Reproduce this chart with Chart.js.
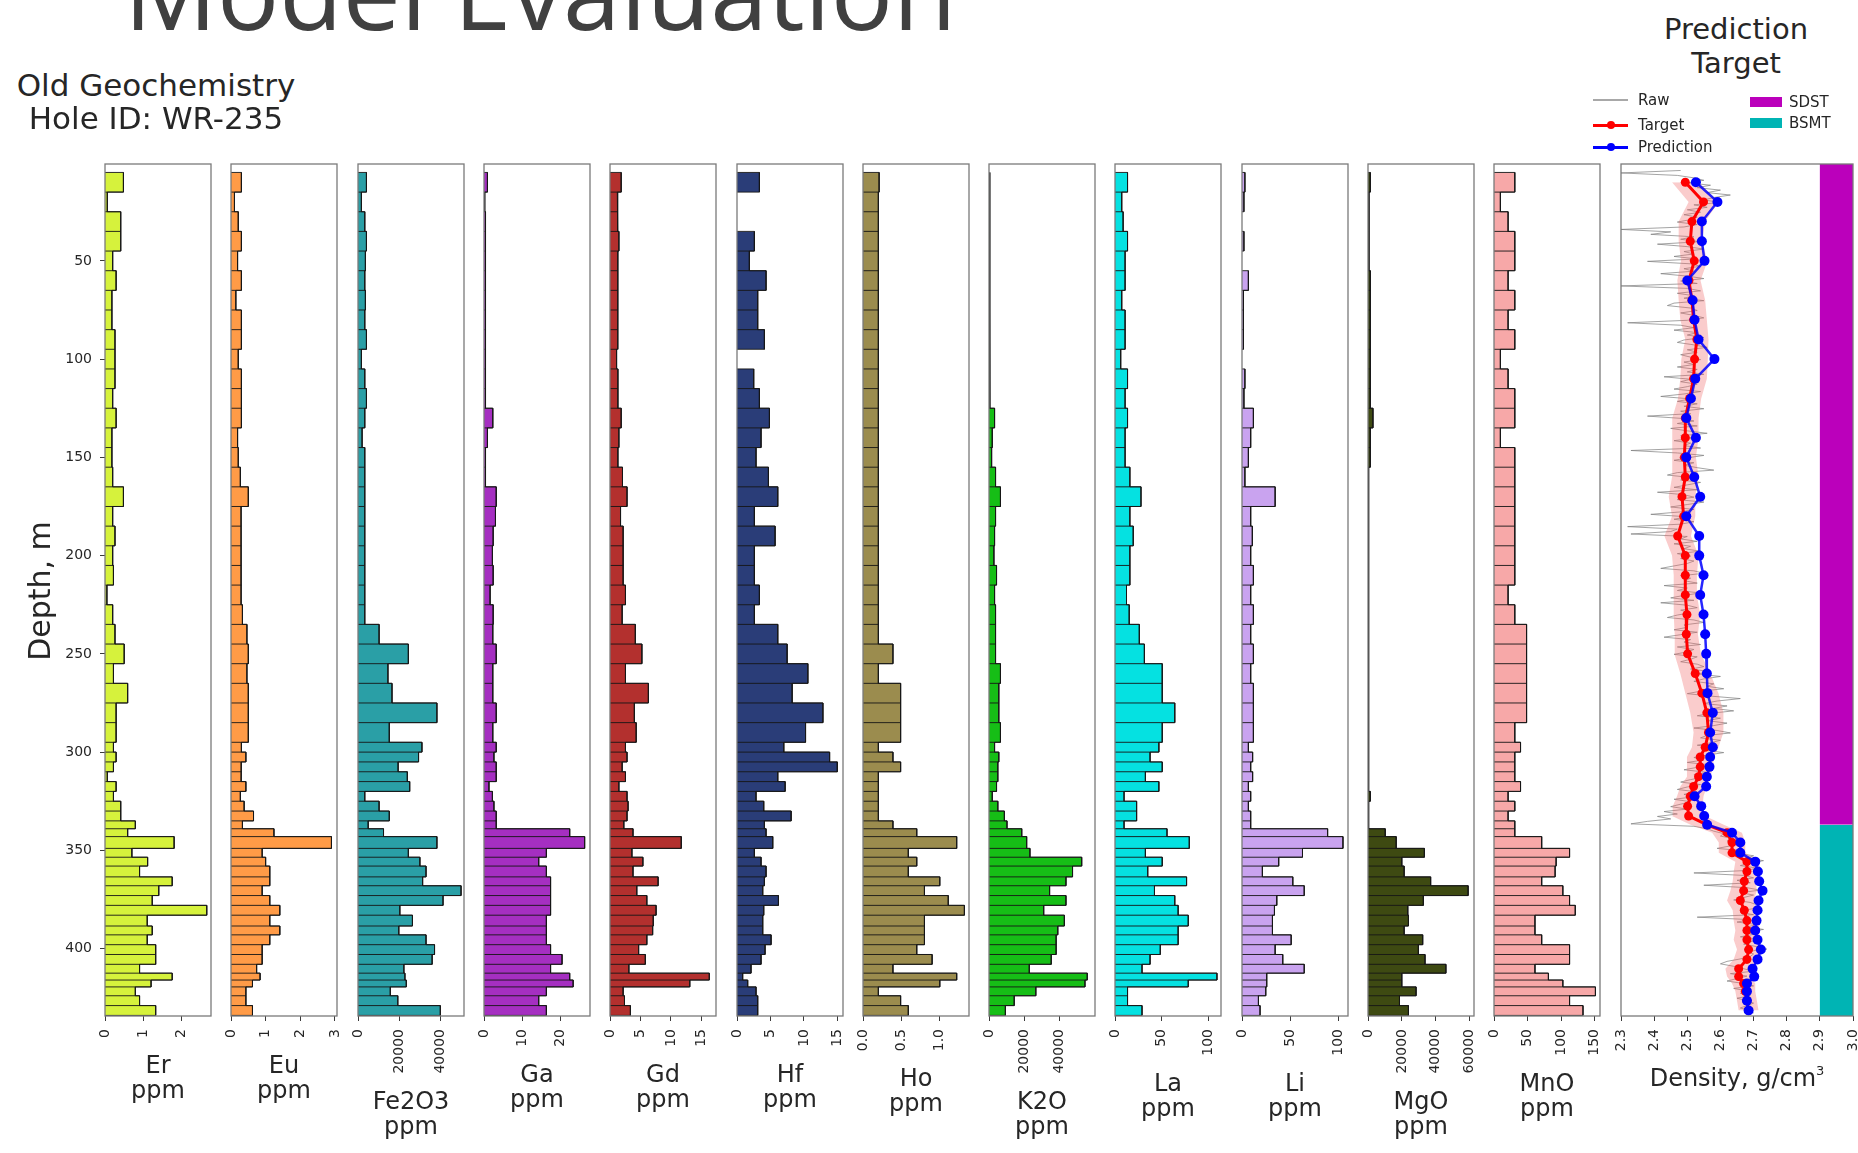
<!DOCTYPE html>
<html lang="en">
<head>
<meta charset="utf-8">
<title>Model Evaluation</title>
<script src="https://cdn.jsdelivr.net/npm/chart.js@4.4.1/dist/chart.umd.min.js"></script>
<style>
  html, body { margin: 0; padding: 0; background: #ffffff; }
  #figure { position: relative; width: 1858px; height: 1153px; overflow: hidden; background: #ffffff; }
  #figure canvas { position: absolute; }
  .txt { position: absolute; white-space: nowrap; }
</style>
</head>
<body>
<div id="figure"></div>
<script>
// ---------------- assay intervals (depth, m) ----------------
const binEdges = [5, 15, 25, 35, 45, 55, 65, 75, 85, 95, 105, 115, 125, 135, 145, 155, 165, 175, 185, 195,
  205, 215, 225, 235, 245, 255, 265, 275, 285, 295, 300, 305, 310, 315, 320, 325, 330, 335, 339, 343,
  349, 353.5, 358, 363.5, 368, 373, 378, 383, 388.5, 393, 398, 403, 408, 412.5, 416, 419.5, 424, 429, 434];
const depthTicks = [50, 100, 150, 200, 250, 300, 350, 400];

// ---------------- assay values, one per interval ----------------
const erValues = [0.48, 0.06, 0.41, 0.41, 0.20, 0.29, 0.18, 0.18, 0.26, 0.26, 0.26, 0.20, 0.29, 0.18, 0.18, 0.20, 0.48, 0.20, 0.26, 0.20, 0.22, 0.05, 0.20, 0.26,
  0.50, 0.22, 0.59, 0.29, 0.29, 0.22, 0.29, 0.22, 0.06, 0.29, 0.22, 0.41, 0.41, 0.79, 0.59, 1.80, 0.70, 1.11, 0.90, 1.75, 1.40, 1.23, 2.65, 1.10, 1.23, 1.10, 1.32, 1.32, 0.90, 1.75, 1.20, 0.79, 0.90, 1.32];
const euValues = [0.30, 0.10, 0.21, 0.30, 0.19, 0.30, 0.14, 0.30, 0.30, 0.21, 0.30, 0.30, 0.30, 0.19, 0.21, 0.27, 0.50, 0.29, 0.29, 0.29, 0.29, 0.30, 0.33, 0.46,
  0.50, 0.46, 0.50, 0.50, 0.50, 0.30, 0.43, 0.30, 0.29, 0.43, 0.27, 0.38, 0.65, 0.33, 1.24, 2.90, 0.90, 1.00, 1.12, 1.12, 0.90, 1.12, 1.41, 1.12, 1.41, 1.12, 0.90, 0.90, 0.74, 0.84, 0.62, 0.43, 0.43, 0.62];
const fe2o3Values = [4100, 1650, 3300, 4100, 3600, 3300, 3600, 3300, 4100, 1650, 3300, 4100, 3300, 2000, 3300, 3300, 3300, 3300, 3300, 3300, 3300, 3300, 3300, 10250,
  24460, 14550, 16530, 38350, 15200, 31070, 29420, 19500, 23970, 25120, 3300, 10250, 15200, 4960, 12400, 38350, 24460, 30080, 33060, 31400, 50080, 41320, 20330, 26450, 19830, 33060, 37190, 36030, 22300, 22800, 23470, 15700, 19340, 40000];
const gaValues = [0.9, 0.2, 0.4, 0.4, 0.4, 0.4, 0.4, 0.4, 0.4, 0.4, 0.4, 0.4, 2.3, 0.9, 0.4, 0.4, 3.2, 3.0, 2.4, 2.2, 2.4, 1.6, 2.4, 2.3,
  3.2, 2.3, 2.3, 3.2, 2.3, 3.2, 2.6, 3.2, 3.2, 1.3, 2.2, 2.6, 3.2, 3.2, 22.4, 26.3, 16.3, 14.3, 16.3, 17.4, 17.4, 17.4, 17.4, 16.3, 16.3, 16.3, 17.4, 20.4, 17.4, 22.4, 23.3, 16.3, 14.3, 16.3];
const gdValues = [1.84, 1.20, 1.30, 1.46, 1.30, 1.30, 1.30, 1.30, 1.20, 1.08, 1.30, 1.30, 1.84, 1.46, 1.30, 2.05, 2.80, 1.73, 2.16, 2.16, 2.16, 2.54, 2.00, 4.16,
  5.24, 2.54, 6.30, 4.00, 4.30, 2.54, 2.80, 2.00, 2.54, 1.46, 2.80, 2.97, 2.80, 2.27, 3.78, 11.7, 3.60, 5.40, 3.78, 7.90, 4.40, 6.05, 7.57, 7.10, 7.00, 6.05, 4.70, 5.80, 3.10, 16.3, 13.1, 2.16, 2.38, 3.35];
const hfValues = [3.35, null, null, 2.6, 1.85, 4.35, 3.1, 3.1, 4.1, null, 2.5, 3.35, 4.85, 3.6, 2.85, 4.7, 6.1, 2.6, 5.7, 2.6, 2.6, 3.35, 2.6, 6.1,
  7.5, 10.6, 8.25, 12.85, 10.25, 7.0, 13.85, 15.0, 6.1, 7.2, 2.85, 4.0, 8.1, 4.1, 4.35, 5.35, 2.6, 3.6, 4.35, 4.1, 3.85, 6.2, 4.0, 3.85, 3.85, 5.1, 4.2, 3.6, 2.1, 0.85, 1.6, 2.85, 3.1, 3.1];
const hoValues = [0.21, 0.2, 0.2, 0.2, 0.2, 0.2, 0.2, 0.2, 0.2, 0.2, 0.2, 0.2, 0.2, 0.2, 0.2, 0.2, 0.2, 0.2, 0.2, 0.2, 0.2, 0.2, 0.2, 0.2,
  0.39, 0.2, 0.49, 0.49, 0.49, 0.2, 0.39, 0.49, 0.2, 0.2, 0.2, 0.2, 0.2, 0.39, 0.7, 1.22, 0.59, 0.7, 0.59, 1.0, 0.8, 1.11, 1.32, 0.8, 0.8, 0.8, 0.7, 0.9, 0.39, 1.22, 1.0, 0.2, 0.49, 0.59];
const k2oValues = [500, 500, 500, 500, 500, 500, 500, 500, 500, 500, 500, 500, 3160, 1860, 1490, 3720, 6510, 3720, 3160, 2790, 4280, 3160, 3720, 3720,
  3720, 6510, 5580, 5580, 6510, 3160, 5580, 5020, 5020, 4280, 1860, 5020, 8740, 10230, 18600, 21400, 23260, 52650, 47440, 43720, 34420, 43720, 31070, 42790, 39070, 38140, 38140, 35350, 22880, 55810, 54510, 26600, 14330, 9300];
const laValues = [13.4, 7.2, 8.7, 13.4, 10.8, 10.8, 7.2, 10.8, 10.8, 6.1, 13.4, 10.8, 13.4, 10.8, 10.8, 15.9, 27.8, 15.9, 19.5, 15.9, 15.9, 12.3, 15.2, 26.0,
  31.4, 50.5, 50.5, 63.9, 50.5, 46.9, 37.5, 50.5, 32.5, 46.9, 9.7, 23.1, 23.1, 9.7, 55.6, 79.4, 32.5, 50.5, 35.0, 76.5, 42.2, 63.9, 67.5, 78.3, 67.5, 67.5, 48.4, 37.5, 28.9, 109, 78.3, 13.4, 13.4, 28.9];
const liValues = [3, 2, null, 2, null, 6.6, 1.5, 1.5, 1.5, null, 3, 2, 11.8, 9, 6.6, 3, 34.3, 9, 10.7, 9, 11.8, 9, 11.8, 9,
  11.8, 9, 11.8, 11.8, 11.8, 6.6, 11, 9, 11, 6.6, 9, 6.6, 9, 9, 88.6, 104.5, 62.6, 38, 21.1, 52.6, 64.4, 36, 33.6, 31.5, 31.5, 50.9, 34.3, 42.2, 64.4, 25.6, 25.6, 24.6, 17, 18.7];
const mgoValues = [1370, 590, 590, 590, 590, 1370, 1370, 1370, 1370, 1370, 1370, 1370, 2930, 1370, 1370, 390, 390, 390, 390, 390, 390, 390, 390, 390,
  390, 390, 390, 390, 390, 390, 390, 390, 390, 390, 1370, 390, 390, 390, 10170, 16620, 33240, 19940, 21310, 36950, 59040, 32650, 23460, 23850, 21310, 32260, 29720, 33630, 45940, 19940, 19940, 28350, 18570, 23850];
const mnoValues = [31, 9.5, 21, 31, 31, 21, 31, 21, 31, 9.5, 21, 31, 31, 9.5, 31, 31, 31, 31, 31, 31, 31, 21, 31, 48.5,
  48.5, 48.5, 48.5, 48.5, 31, 39.5, 31, 31, 31, 39.5, 21, 31, 21, 31, 31, 71, 112.5, 92.5, 91, 71, 102.5, 112.5, 121, 61, 61, 71, 112.5, 112.5, 61, 81, 102.5, 151, 112.5, 132.5];

// ---------------- tick labels ----------------
const erTicks = ['0', '1', '2'];
const euTicks = ['0', '1', '2', '3'];
const fe2o3Ticks = ['0', '20000', '40000'];
const gaTicks = ['0', '10', '20'];
const gdTicks = ['0', '5', '10', '15'];
const hfTicks = ['0', '5', '10', '15'];
const hoTicks = ['0.0', '0.5', '1.0'];
const k2oTicks = ['0', '20000', '40000'];
const laTicks = ['0', '50', '100'];
const liTicks = ['0', '50', '100'];
const mgoTicks = ['0', '20000', '40000', '60000'];
const mnoTicks = ['0', '50', '100', '150'];
const densityTicks = ['2.3', '2.4', '2.5', '2.6', '2.7', '2.8', '2.9', '3.0'];

// ---------------- density (g/cm3), one per interval ----------------
const targetDensity = [2.494, 2.549, 2.514, 2.509, 2.521, 2.505, 2.514, 2.519, 2.529, 2.522,
  2.519, 2.507, 2.494, 2.494, 2.491, 2.494, 2.484, 2.489, 2.471, 2.494,
  2.494, 2.494, 2.499, 2.497, 2.501, 2.524, 2.544, 2.559, 2.564, 2.554,
  2.539, 2.539, 2.534, 2.519, 2.509, 2.501, 2.504, 2.560, 2.620, 2.635,
  2.635, 2.680, 2.680, 2.672, 2.670, 2.660, 2.672, 2.680, 2.680, 2.680,
  2.685, 2.680, 2.655, 2.655, 2.670, 2.675, 2.680, 2.685];
const predictedDensity = [2.526, 2.591, 2.544, 2.544, 2.552, 2.500, 2.516, 2.522, 2.534, 2.582,
  2.524, 2.511, 2.497, 2.526, 2.497, 2.521, 2.539, 2.497, 2.536, 2.536,
  2.549, 2.539, 2.549, 2.554, 2.557, 2.559, 2.561, 2.577, 2.569, 2.577,
  2.569, 2.567, 2.559, 2.557, 2.522, 2.542, 2.551, 2.560, 2.635, 2.660,
  2.660, 2.705, 2.713, 2.717, 2.727, 2.715, 2.712, 2.709, 2.705, 2.712,
  2.722, 2.712, 2.697, 2.702, 2.680, 2.680, 2.680, 2.685];
// half-width of the target scatter band
const targetSpread = [0.04, 0.045, 0.04, 0.035, 0.04, 0.035, 0.04, 0.04, 0.035, 0.04,
  0.04, 0.035, 0.04, 0.04, 0.035, 0.04, 0.04, 0.035, 0.04, 0.04,
  0.035, 0.035, 0.04, 0.035, 0.04, 0.045, 0.05, 0.05, 0.045, 0.04,
  0.04, 0.04, 0.035, 0.04, 0.04, 0.045, 0.05, 0.05, 0.045, 0.04,
  0.04, 0.035, 0.04, 0.035, 0.04, 0.04, 0.035, 0.04, 0.035, 0.04,
  0.035, 0.04, 0.04, 0.035, 0.035, 0.03, 0.03, 0.03];

// raw log, sampled every 1.25 m from 4 m
const RAW_START = 4, RAW_STEP = 1.25;
const rawDensity = [
  2.48, 2.30, 2.47, 2.52, 2.55, 2.50, 2.57, 2.53, 2.60, 2.56, 2.63, 2.58, 2.55, 2.60, 2.52, 2.56, 2.50, 2.54, 2.49, 2.53,
  2.51, 2.47, 2.53, 2.49, 2.30, 2.45, 2.39, 2.52, 2.48, 2.54, 2.41, 2.50, 2.55, 2.49, 2.52, 2.46, 2.53, 2.38, 2.51, 2.54,
  2.49, 2.52, 2.42, 2.50, 2.55, 2.48, 2.53, 2.30, 2.50, 2.54, 2.47, 2.52, 2.49, 2.55, 2.46, 2.44, 2.51, 2.53, 2.48, 2.52,
  2.55, 2.50, 2.32, 2.48, 2.52, 2.46, 2.53, 2.50, 2.55, 2.49, 2.47, 2.52, 2.56, 2.50, 2.53, 2.48, 2.51, 2.54, 2.49, 2.52,
  2.47, 2.53, 2.50, 2.55, 2.43, 2.51, 2.48, 2.53, 2.50, 2.46, 2.54, 2.49, 2.42, 2.51, 2.47, 2.53, 2.49, 2.55, 2.48, 2.51,
  2.38, 2.49, 2.52, 2.47, 2.53, 2.45, 2.50, 2.56, 2.48, 2.52, 2.46, 2.51, 2.49, 2.54, 2.33, 2.47, 2.55, 2.50, 2.46, 2.52,
  2.49, 2.53, 2.58, 2.47, 2.44, 2.51, 2.48, 2.54, 2.50, 2.46, 2.53, 2.41, 2.49, 2.52, 2.47, 2.55, 2.50, 2.45, 2.52, 2.48,
  2.39, 2.50, 2.46, 2.52, 2.48, 2.32, 2.47, 2.45, 2.33, 2.50, 2.48, 2.53, 2.46, 2.51, 2.49, 2.54, 2.47, 2.51, 2.48, 2.52,
  2.50, 2.46, 2.42, 2.52, 2.55, 2.48, 2.51, 2.49, 2.53, 2.43, 2.50, 2.47, 2.54, 2.49, 2.45, 2.52, 2.42, 2.50, 2.53, 2.48,
  2.51, 2.47, 2.44, 2.52, 2.55, 2.49, 2.50, 2.46, 2.53, 2.48, 2.43, 2.51, 2.49, 2.54, 2.47, 2.52, 2.50, 2.46, 2.53, 2.51,
  2.48, 2.53, 2.55, 2.51, 2.57, 2.53, 2.60, 2.55, 2.52, 2.58, 2.56, 2.61, 2.54, 2.50, 2.57, 2.66, 2.59, 2.55, 2.62, 2.58,
  2.64, 2.57, 2.53, 2.60, 2.56, 2.62, 2.58, 2.52, 2.59, 2.63, 2.56, 2.54, 2.60, 2.57, 2.53, 2.59, 2.55, 2.61, 2.56, 2.52,
  2.55, 2.50, 2.57, 2.53, 2.49, 2.56, 2.52, 2.55, 2.51, 2.48, 2.54, 2.50, 2.47, 2.53, 2.49, 2.52, 2.46, 2.51, 2.48, 2.45,
  2.50, 2.43, 2.47, 2.41, 2.45, 2.38, 2.33, 2.52, 2.56, 2.58, 2.61, 2.60, 2.64, 2.62, 2.66, 2.63, 2.59, 2.67, 2.65, 2.70,
  2.68, 2.73, 2.69, 2.66, 2.71, 2.68, 2.52, 2.67, 2.70, 2.65, 2.69, 2.55, 2.68, 2.72, 2.66, 2.70, 2.67, 2.64, 2.69, 2.71,
  2.72, 2.68, 2.66, 2.70, 2.53, 2.69, 2.65, 2.71, 2.68, 2.73, 2.67, 2.70, 2.66, 2.72, 2.69, 2.67, 2.71, 2.74, 2.68, 2.70,
  2.69, 2.66, 2.62, 2.60, 2.64, 2.67, 2.70, 2.63, 2.68, 2.65, 2.62, 2.67, 2.70, 2.64, 2.68, 2.66, 2.69, 2.65, 2.68, 2.70,
  2.68, 2.66, 2.69, 2.70];

// lithology column
const lithoNames = ['SDST', 'BSMT'];
const lithoTop = [0, 337];
const lithoBase = [337, 436];

// ---------------- layout ----------------
const fig = document.getElementById('figure');
const PLOT_TOP = 164, PLOT_BOTTOM = 1016, PLOT_H = PLOT_BOTTOM - PLOT_TOP;
const PAD_TOP = 30, AXIS_BOX = 110, SIDE = 30;
const PANEL_W = 106, PANEL_PITCH = 126.3, FIRST_LEFT = 105;
const DENS_LEFT = 1621, DENS_W = 232;
const DEPTH_MIN = 0.7, DEPTH_MAX = 434.3;
const TICK_FONT = { family: 'DejaVu Sans', size: 14 };
const TICK_LEN = 5, TICK_PAD = 8;
const TEXT = '#262626';
const EDGE = 'rgba(22,22,22,0.9)';
const SDST_COLOR = '#bb00bb', BSMT_COLOR = '#00b4b4';

Chart.defaults.font.family = 'DejaVu Sans';

const panels = [
  { name: 'Er', values: erValues, ticks: erTicks, max: 2.76, color: '#d6f23c' },
  { name: 'Eu', values: euValues, ticks: euTicks, max: 3.06, color: '#ff9b47' },
  { name: 'Fe2O3', values: fe2o3Values, ticks: fe2o3Ticks, max: 51500, color: '#2a9fa6' },
  { name: 'Ga', values: gaValues, ticks: gaTicks, max: 27.7, color: '#a52fc1' },
  { name: 'Gd', values: gdValues, ticks: gdTicks, max: 17.4, color: '#b3302e' },
  { name: 'Hf', values: hfValues, ticks: hfTicks, max: 15.85, color: '#2a3d78' },
  { name: 'Ho', values: hoValues, ticks: hoTicks, max: 1.38, color: '#9b8c4e' },
  { name: 'K2O', values: k2oValues, ticks: k2oTicks, max: 60200, color: '#16be16' },
  { name: 'La', values: laValues, ticks: laTicks, max: 113.3, color: '#05e1e1' },
  { name: 'Li', values: liValues, ticks: liTicks, max: 109.7, color: '#c9a3ef' },
  { name: 'MgO', values: mgoValues, ticks: mgoTicks, max: 62500, color: '#3e4a12' },
  { name: 'MnO', values: mnoValues, ticks: mnoTicks, max: 157.8, color: '#f7a8a8' }
];

// frame around each plotting area
const framePlugin = {
  id: 'panelFrame',
  afterDatasetsDraw(chart) {
    const { ctx, chartArea: a } = chart;
    ctx.save();
    ctx.strokeStyle = '#7a7a7a';
    ctx.lineWidth = 1.3;
    ctx.strokeRect(a.left, a.top, a.right - a.left, a.bottom - a.top);
    ctx.restore();
  }
};

function makeCanvas(left, width) {
  const c = document.createElement('canvas');
  c.width = width;
  c.height = PAD_TOP + PLOT_H + AXIS_BOX;
  c.style.left = left + 'px';
  c.style.top = (PLOT_TOP - PAD_TOP) + 'px';
  c.style.width = width + 'px';
  c.style.height = c.height + 'px';
  fig.appendChild(c);
  return c;
}

function valueAxis(min, max, tickLabels) {
  return {
    type: 'linear', position: 'bottom', min, max,
    afterBuildTicks: s => { s.ticks = tickLabels.map(t => ({ value: Number(t) })); },
    afterFit: s => { s.height = AXIS_BOX; },
    ticks: {
      autoSkip: false, minRotation: 90, maxRotation: 90, padding: TICK_PAD,
      font: TICK_FONT, color: TEXT,
      callback: (v, i) => tickLabels[i]
    },
    grid: { display: true, drawOnChartArea: false, drawTicks: true, tickLength: TICK_LEN, color: '#3a3a3a', lineWidth: 1 },
    border: { display: false }
  };
}

function depthAxis(show) {
  const axis = {
    type: 'linear', reverse: true, min: DEPTH_MIN, max: DEPTH_MAX, display: show,
    afterBuildTicks: s => { s.ticks = depthTicks.map(v => ({ value: v })); },
    ticks: { autoSkip: false, padding: TICK_PAD, font: TICK_FONT, color: TEXT },
    grid: { display: true, drawOnChartArea: false, drawTicks: true, tickLength: TICK_LEN, color: '#3a3a3a', lineWidth: 1 },
    border: { display: false }
  };
  if (show) axis.afterFit = s => { s.width = FIRST_LEFT; };
  return axis;
}

// outline of the stepped bar profile (one corner pair per interval)
function profilePoints(values) {
  const pts = [];
  let open = false;
  values.forEach((v, i) => {
    const top = binEdges[i], bottom = binEdges[i + 1];
    if (v === null) {
      if (open) { pts.push({ x: 0, y: top }, { x: null, y: top }); open = false; }
      return;
    }
    if (!open) { pts.push({ x: 0, y: top }); open = true; }
    pts.push({ x: v, y: top }, { x: v, y: bottom });
  });
  if (open) pts.push({ x: 0, y: binEdges[values.length] });
  return pts;
}

// edges between neighbouring bars
function separatorPoints(values) {
  const pts = [];
  for (let i = 1; i < values.length; i++) {
    const a = values[i - 1], b = values[i];
    if (a === null || b === null) continue;
    const y = binEdges[i];
    pts.push({ x: 0, y }, { x: Math.max(a, b), y }, { x: null, y });
  }
  return pts;
}

const baseOptions = () => ({
  indexAxis: 'y', responsive: false, animation: false, devicePixelRatio: 1, events: [],
  plugins: { legend: { display: false }, tooltip: { enabled: false } }
});

// ---------------- text helpers ----------------
function placeText(content, o) {
  const size = o.size, L = o.lineHeight || Math.round(size * 1.2);
  const asc = o.asc !== undefined ? o.asc : 0.928, desc = o.desc !== undefined ? o.desc : 0.236;
  const top = o.baseline - ((L - (asc + desc) * size) / 2 + asc * size);
  const d = document.createElement('div');
  d.className = 'txt';
  d.style.fontFamily = o.family || "'DejaVu Sans'";
  d.style.fontSize = size + 'px';
  d.style.lineHeight = L + 'px';
  d.style.color = o.color || TEXT;
  d.style.top = top + 'px';
  if (o.cx !== undefined) {
    d.style.left = (o.cx - 300) + 'px';
    d.style.width = '600px';
    d.style.textAlign = 'center';
  } else {
    d.style.left = o.left + 'px';
  }
  if (o.html) d.innerHTML = content; else d.textContent = content;
  fig.appendChild(d);
  return d;
}

const measure = document.createElement('canvas').getContext('2d');
measure.font = "14px 'DejaVu Sans'";
const widestTick = labels => Math.max(...labels.map(t => measure.measureText(t).width));

// ---------------- geochemistry panels ----------------
panels.forEach((p, i) => {
  const left = Math.round(FIRST_LEFT + i * PANEL_PITCH);
  const first = i === 0;
  const canvasLeft = first ? 0 : left - SIDE;
  const width = first ? left + PANEL_W + SIDE : PANEL_W + 2 * SIDE;
  const c = makeCanvas(canvasLeft, width);
  const opts = baseOptions();
  opts.layout = { padding: { left: first ? 0 : SIDE, right: SIDE, top: PAD_TOP, bottom: 0 } };
  opts.scales = { x: valueAxis(0, p.max, p.ticks), y: depthAxis(first) };
  new Chart(c, {
    type: 'line',
    data: {
      datasets: [
        { data: profilePoints(p.values), backgroundColor: p.color, borderColor: EDGE, borderWidth: 1,
          fill: 'origin', pointRadius: 0, tension: 0, spanGaps: false, borderJoinStyle: 'miter', order: 1 },
        { data: separatorPoints(p.values), borderColor: EDGE, borderWidth: 1, fill: false,
          pointRadius: 0, tension: 0, spanGaps: false, order: 0 }
      ]
    },
    options: opts,
    plugins: [framePlugin]
  });
  const cx = left + PANEL_W / 2;
  const b1 = PLOT_BOTTOM + TICK_LEN + TICK_PAD + widestTick(p.ticks) + 36;
  placeText(p.name, { cx, baseline: b1, size: 24 });
  placeText('ppm', { cx, baseline: b1 + 25, size: 24 });
});

// ---------------- density panel ----------------
const binCenters = targetDensity.map((_, i) => (binEdges[i] + binEdges[i + 1]) / 2);
const rawDepths = rawDensity.map((_, i) => RAW_START + i * RAW_STEP);
{
  const c = makeCanvas(DENS_LEFT - SIDE, DENS_W + 2 * SIDE);
  const opts = baseOptions();
  opts.layout = { padding: { left: SIDE, right: SIDE, top: PAD_TOP, bottom: 0 } };
  opts.scales = { x: valueAxis(2.3, 3.0, densityTicks), y: depthAxis(false) };
  new Chart(c, {
    type: 'line',
    data: {
      datasets: [
        { label: 'Prediction', data: predictedDensity.map((v, i) => ({ x: v, y: binCenters[i] })),
          borderColor: 'rgba(0,0,255,0.85)', borderWidth: 2.5, pointRadius: 5, pointBorderWidth: 0,
          pointBackgroundColor: '#0000ff', fill: false, tension: 0, order: 0 },
        { label: 'Target', data: targetDensity.map((v, i) => ({ x: v, y: binCenters[i] })),
          borderColor: '#ff0000', borderWidth: 3, pointRadius: 4.5, pointBorderWidth: 0,
          pointBackgroundColor: '#ff0000', fill: false, tension: 0, order: 1 },
        { label: 'Target upper', data: targetDensity.map((v, i) => ({ x: v + targetSpread[i], y: binCenters[i] })),
          borderWidth: 0, pointRadius: 0, fill: '+1', backgroundColor: 'rgba(240,100,100,0.33)', tension: 0, order: 2 },
        { label: 'Target lower', data: targetDensity.map((v, i) => ({ x: v - targetSpread[i], y: binCenters[i] })),
          borderWidth: 0, pointRadius: 0, fill: false, tension: 0, order: 3 },
        { label: 'Raw', data: rawDensity.map((v, i) => ({ x: v, y: rawDepths[i] })),
          borderColor: 'rgba(125,125,125,0.7)', borderWidth: 1, pointRadius: 0, fill: false, tension: 0, order: 4 },
        { label: lithoNames[0], data: [{ x: 3.0, y: lithoTop[0] }, { x: 3.0, y: lithoBase[0] }],
          borderWidth: 0, pointRadius: 0, fill: { value: 2.9 }, backgroundColor: SDST_COLOR, order: 5 },
        { label: lithoNames[1], data: [{ x: 3.0, y: lithoTop[1] }, { x: 3.0, y: lithoBase[1] }],
          borderWidth: 0, pointRadius: 0, fill: { value: 2.9 }, backgroundColor: BSMT_COLOR, order: 5 }
      ]
    },
    options: opts,
    plugins: [framePlugin]
  });
  const b1 = PLOT_BOTTOM + TICK_LEN + TICK_PAD + widestTick(densityTicks) + 36;
  placeText('Density, g/cm<sup style="font-size:13px;vertical-align:11px;line-height:0">3</sup>',
    { cx: DENS_LEFT + DENS_W / 2, baseline: b1, size: 24, html: true });
}

// ---------------- titles ----------------
placeText('Model Evaluation', { left: 124, baseline: 30, size: 103.5, family: "'Open Sans'", asc: 1.069, desc: 0.293, color: '#404040', lineHeight: 104 });
placeText('Old Geochemistry', { cx: 156, baseline: 96.5, size: 31 });
placeText('Hole ID: WR-235', { cx: 156, baseline: 129.5, size: 31 });
placeText('Prediction', { cx: 1736, baseline: 40, size: 29 });
placeText('Target', { cx: 1736, baseline: 73.5, size: 29 });
{
  const d = placeText('Depth, m', { cx: 40, baseline: 601, size: 30 });
  d.style.transformOrigin = '300px 50%';
  d.style.transform = 'rotate(-90deg)';
  // keep the rotated label centred on x = 40, y = 591
  const h = parseFloat(d.style.lineHeight);
  d.style.top = (591 - h / 2) + 'px';
}

// ---------------- legend ----------------
function legendRule(x1, x2, y, color, w, dot) {
  const l = document.createElement('div');
  l.style.cssText = `position:absolute;left:${x1}px;top:${y - w / 2}px;width:${x2 - x1}px;height:${w}px;background:${color};`;
  fig.appendChild(l);
  if (dot) {
    const m = document.createElement('div');
    const cx = (x1 + x2) / 2;
    m.style.cssText = `position:absolute;left:${cx - dot}px;top:${y - dot}px;width:${2 * dot}px;height:${2 * dot}px;border-radius:50%;background:${color};`;
    fig.appendChild(m);
  }
}
function legendPatch(x, y, w, h, color) {
  const r = document.createElement('div');
  r.style.cssText = `position:absolute;left:${x}px;top:${y}px;width:${w}px;height:${h}px;background:${color};`;
  fig.appendChild(r);
}
legendRule(1593, 1628, 100, '#a8a8a8', 1.5, 0);
legendRule(1593, 1628, 125, '#ff0000', 3, 4);
legendRule(1593, 1628, 147, '#0000ff', 3, 4);
placeText('Raw', { left: 1638, baseline: 105.5, size: 15 });
placeText('Target', { left: 1638, baseline: 130.5, size: 15 });
placeText('Prediction', { left: 1638, baseline: 152.5, size: 15 });
legendPatch(1750, 97, 32, 10, SDST_COLOR);
legendPatch(1750, 118, 32, 10, BSMT_COLOR);
placeText(lithoNames[0], { left: 1789, baseline: 107.5, size: 15 });
placeText(lithoNames[1], { left: 1789, baseline: 128.5, size: 15 });
</script>
</body>
</html>
